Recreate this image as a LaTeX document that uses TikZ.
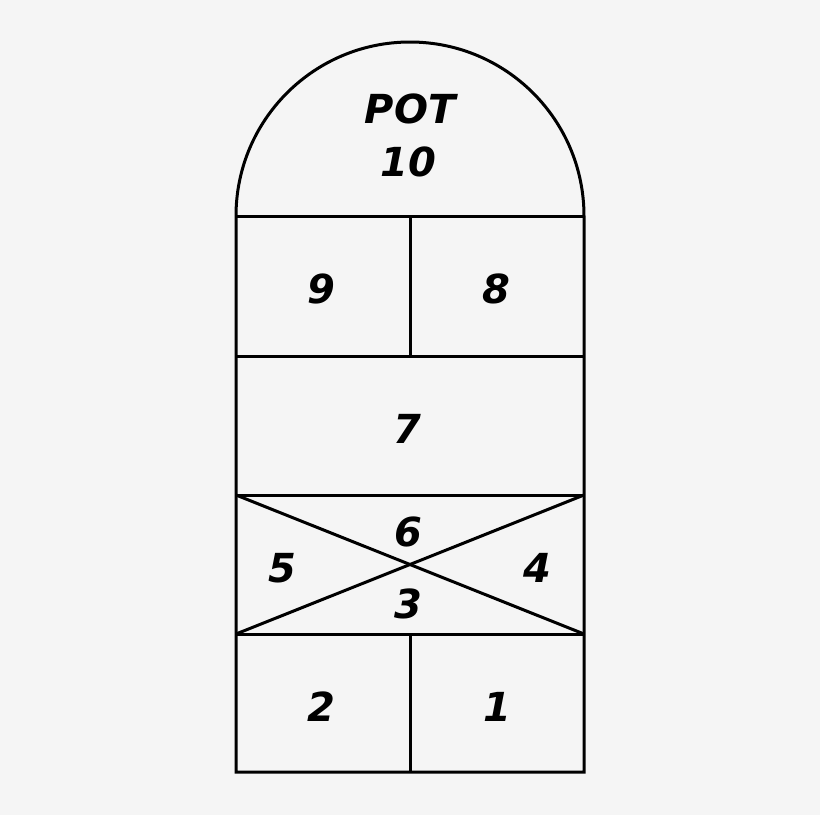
\documentclass[tikz,border=0pt]{standalone}
\usepackage{fontspec}
\setmainfont{DejaVu Sans}
\begin{document}
\begin{tikzpicture}[x=1pt,y=-1pt,
  lbl/.style={font=\fontsize{40}{44}\selectfont\bfseries\itshape, inner sep=0pt, anchor=center},
  edge/.style={line width=3pt, black}]
\fill[fill={rgb,255:red,245;green,245;blue,245}] (0,0) rectangle (820,815);
\useasboundingbox (0,0) rectangle (820,815);
\coordinate (tl) at (236,216);
\coordinate (tr) at (584,216);
\coordinate (r1l) at (236,356);
\coordinate (r1r) at (584,356);
\coordinate (r2l) at (236,495);
\coordinate (r2r) at (584,495);
\coordinate (r3l) at (236,634);
\coordinate (r3r) at (584,634);
\coordinate (bl) at (236,772);
\coordinate (br) at (584,772);
\coordinate (m0) at (410,216);
\coordinate (m1) at (410,356);
\coordinate (m3) at (410,634);
\coordinate (m4) at (410,772);
% outline with arch
\draw[edge, line join=miter] (bl) -- (tl) arc[start angle=180, end angle=360, radius=174] -- (br) -- cycle;
\draw[edge] (tl) -- (tr);
\draw[edge] (r1l) -- (r1r);
\draw[edge] (r2l) -- (r2r);
\draw[edge] (r3l) -- (r3r);
\draw[edge] (m0) -- (m1);
\draw[edge] (m3) -- (m4);
\draw[edge] (r2l) -- (r3r);
\draw[edge] (r3l) -- (r2r);
% labels
\node[lbl] (pot) at (410,109) {POT};
\node[lbl] (n10) at (408,162) {10};
\node[lbl] (n9) at (321,289) {9};
\node[lbl] (n8) at (496,289) {8};
\node[lbl] (n7) at (407,429) {7};
\node[lbl] (n6) at (408,532) {6};
\node[lbl] (n5) at (282,568) {5};
\node[lbl] (n4) at (537,568) {4};
\node[lbl] (n3) at (408,604) {3};
\node[lbl] (n2) at (321,707) {2};
\node[lbl] (n1) at (497,707) {1};
\end{tikzpicture}
\end{document}
